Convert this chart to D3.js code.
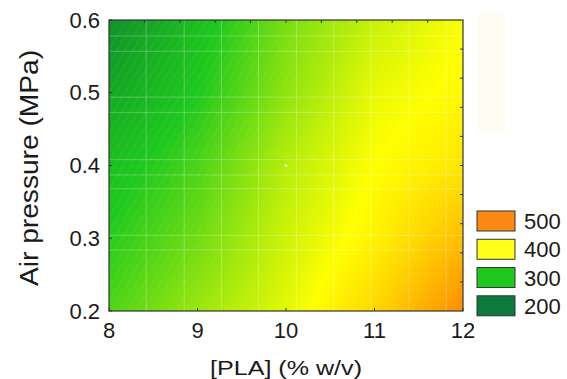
<!DOCTYPE html>
<html>
<head>
<meta charset="utf-8">
<script src="https://cdn.jsdelivr.net/npm/d3@7"></script>
<style>
  body { margin: 0; background: #fff; }
  svg { display: block; font-family: "Liberation Sans", Arial, sans-serif; }
</style>
</head>
<body>
<div id="chart"></div>
<script>
// response surface nodes: PLA concentration (x) vs air pressure (y)
const plaLevels = [8, 9, 10, 11, 12];
const pressureLevels = [0.2, 0.3, 0.4, 0.5, 0.6];
// fibre diameter (nm) at each node, one row per pressure level
const diameterRows = [
  [322, 355, 387, 432, 490],   // 0.2 MPa
  [305, 336, 378, 410, 452],   // 0.3
  [288, 320, 368, 400, 420],   // 0.4
  [258, 300, 350, 390, 405],   // 0.5
  [228, 288, 340, 375, 398]    // 0.6
];
const legendLevels = [500, 400, 300, 200];
const legendColors = ["#fb8a12", "#ffff1a", "#1ec81e", "#0b7a3a"];
const xTicks = [8, 9, 10, 11, 12];
const yTicks = [0.2, 0.3, 0.4, 0.5, 0.6];
// faint mesh lines left by the plotting program
const meshX = [8.42, 8.85, 9.27, 9.69, 10.12, 10.54, 10.96, 11.39, 11.81];
const meshY = [0.578, 0.557, 0.494, 0.473, 0.408, 0.387, 0.368, 0.304, 0.284];

const width = 567, height = 379;
const margin = {left: 109, right: 104, top: 20, bottom: 68};
const plotW = width - margin.left - margin.right;
const plotH = height - margin.top - margin.bottom;

const svg = d3.select("#chart").append("svg")
  .attr("width", width)
  .attr("height", height);

const x = d3.scaleLinear().domain([8, 12]).range([margin.left, margin.left + plotW]);
const y = d3.scaleLinear().domain([0.2, 0.6]).range([margin.top + plotH, margin.top]);

const color = d3.scaleLinear()
  .domain([200, 300, 400, 500])
  .range(["#0b7a2e", "#1ec81e", "#ffff00", "#ff7f00"])
  .clamp(true);

// bilinear lookup in the node table
const xi = d3.scaleLinear().domain(d3.extent(plaLevels)).range([0, plaLevels.length - 1]).clamp(true);
const yi = d3.scaleLinear().domain(d3.extent(pressureLevels)).range([0, pressureLevels.length - 1]).clamp(true);
function surface(px, py) {
  const fx = xi(px), fy = yi(py);
  const i0 = Math.min(Math.floor(fx), plaLevels.length - 2);
  const j0 = Math.min(Math.floor(fy), pressureLevels.length - 2);
  const tx = fx - i0, ty = fy - j0;
  const a = diameterRows[j0][i0], b = diameterRows[j0][i0 + 1];
  const c = diameterRows[j0 + 1][i0], d = diameterRows[j0 + 1][i0 + 1];
  return (a * (1 - tx) + b * tx) * (1 - ty) + (c * (1 - tx) + d * tx) * ty;
}

// paint the surface into a canvas, one pixel at a time
const canvas = document.createElement("canvas");
canvas.width = plotW;
canvas.height = plotH;
const ctx = canvas.getContext("2d");
const img = ctx.createImageData(plotW, plotH);
for (let r = 0; r < plotH; r++) {
  for (let c = 0; c < plotW; c++) {
    const v = surface(x.invert(margin.left + c + 0.5), y.invert(margin.top + r + 0.5));
    const rgb = d3.rgb(color(v));
    const k = (r * plotW + c) * 4;
    img.data[k] = rgb.r; img.data[k + 1] = rgb.g; img.data[k + 2] = rgb.b; img.data[k + 3] = 255;
  }
}
ctx.putImageData(img, 0, 0);

svg.append("image")
  .attr("x", margin.left).attr("y", margin.top)
  .attr("width", plotW).attr("height", plotH)
  .attr("preserveAspectRatio", "none")
  .attr("href", canvas.toDataURL());

// diagonal streaks over the surface
const defs = svg.append("defs");
defs.append("pattern")
  .attr("id", "streaks")
  .attr("patternUnits", "userSpaceOnUse")
  .attr("width", 7).attr("height", 7)
  .attr("patternTransform", "rotate(30)")
  .append("line")
  .attr("x1", 0).attr("y1", 0).attr("x2", 0).attr("y2", 7)
  .attr("stroke", "#fff").attr("stroke-width", 1.2).attr("stroke-opacity", 0.09);
svg.append("rect")
  .attr("x", margin.left).attr("y", margin.top)
  .attr("width", plotW).attr("height", plotH)
  .attr("fill", "url(#streaks)");

const mesh = svg.append("g")
  .attr("stroke", "#fff").attr("stroke-opacity", 0.25).attr("stroke-width", 1);
mesh.selectAll(".mx").data(meshX).join("line")
  .attr("x1", d => x(d)).attr("x2", d => x(d))
  .attr("y1", margin.top).attr("y2", margin.top + plotH);
mesh.selectAll(".my").data(meshY).join("line")
  .attr("x1", margin.left).attr("x2", margin.left + plotW)
  .attr("y1", d => y(d)).attr("y2", d => y(d));

// centre point of the design
svg.append("circle")
  .attr("cx", x(10)).attr("cy", y(0.4)).attr("r", 1.5)
  .attr("fill", "#e8ffe0").attr("opacity", 0.8);

// frame and inward ticks
svg.append("rect")
  .attr("x", margin.left).attr("y", margin.top)
  .attr("width", plotW).attr("height", plotH)
  .attr("fill", "none").attr("stroke", "#333").attr("stroke-width", 1.2);

const tickG = svg.append("g").attr("stroke", "#333").attr("stroke-width", 1);
tickG.selectAll(".bt").data(xTicks).join("line")
  .attr("x1", d => x(d)).attr("x2", d => x(d))
  .attr("y1", margin.top + plotH).attr("y2", margin.top + plotH - 3);
tickG.selectAll(".lt").data(yTicks).join("line")
  .attr("x1", margin.left).attr("x2", margin.left + 3)
  .attr("y1", d => y(d)).attr("y2", d => y(d));
tickG.selectAll(".tt").data(d3.range(8.4, 12, 0.4)).join("line")
  .attr("x1", d => x(d)).attr("x2", d => x(d))
  .attr("y1", margin.top).attr("y2", margin.top + 3);
tickG.selectAll(".rt").data(d3.range(0.24, 0.6, 0.04)).join("line")
  .attr("x1", margin.left + plotW).attr("x2", margin.left + plotW - 3)
  .attr("y1", d => y(d)).attr("y2", d => y(d));

// tick labels
svg.append("g").selectAll("text").data(xTicks).join("text")
  .attr("x", d => x(d)).attr("y", 338)
  .attr("text-anchor", "middle")
  .attr("font-size", 22).attr("fill", "#1a1a1a")
  .text(d => d);
svg.append("g").selectAll("text").data(yTicks).join("text")
  .attr("x", 100).attr("y", d => y(d) + 7.5)
  .attr("text-anchor", "end")
  .attr("font-size", 22).attr("fill", "#1a1a1a")
  .text(d => d3.format(".1f")(d));

// axis titles
svg.append("text")
  .attr("x", 286).attr("y", 375)
  .attr("text-anchor", "middle")
  .attr("font-size", 21).attr("fill", "#1a1a1a")
  .attr("textLength", 152).attr("lengthAdjust", "spacingAndGlyphs")
  .text("[PLA] (% w/v)");
svg.append("text")
  .attr("transform", "translate(38,168) rotate(-90)")
  .attr("text-anchor", "middle")
  .attr("font-size", 25).attr("fill", "#1a1a1a")
  .attr("textLength", 236).attr("lengthAdjust", "spacingAndGlyphs")
  .text("Air pressure (MPa)");

// faint panel to the right of the plot
svg.append("rect")
  .attr("x", 477).attr("y", 13).attr("width", 28).attr("height", 120)
  .attr("fill", "#fffcf4");

// legend
const legend = svg.append("g");
const ly = d3.scaleBand().domain(legendLevels).range([211, 317]).paddingInner(0.25);
legend.selectAll("rect").data(legendLevels).join("rect")
  .attr("x", 477).attr("y", d => ly(d))
  .attr("width", 38).attr("height", 20)
  .attr("fill", (d, i) => legendColors[i])
  .attr("stroke", "#333").attr("stroke-width", 1);
legend.selectAll("text").data(legendLevels).join("text")
  .attr("x", 524).attr("y", d => ly(d) + 18)
  .attr("font-size", 22).attr("fill", "#1a1a1a")
  .text(d => d);
</script>
</body>
</html>
